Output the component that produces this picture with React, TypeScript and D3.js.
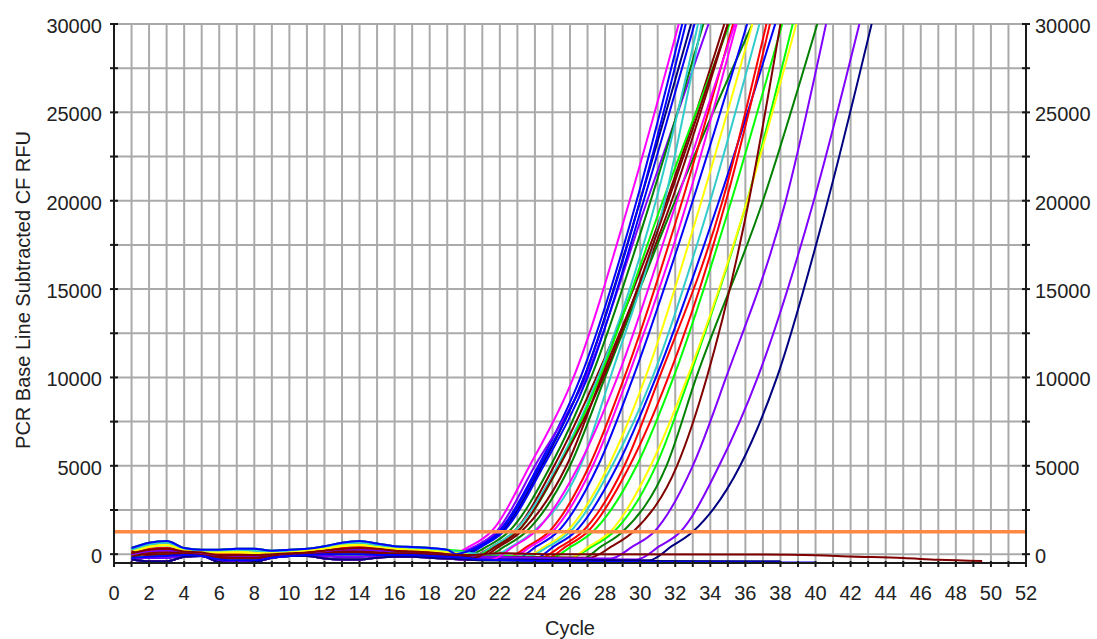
import React from "react";
import * as d3 from "d3";

const width = 1097;
const height = 639;
const plotLeft = 114;
const plotRight = 1026;
const plotTop = 24;
const plotBottom = 563;

// axis ticks / labels
const xLabelCycles = d3.range(0, 53, 2);
const xGridCycles = d3.range(1, 52);
const xTickCycles = d3.range(0, 53);
const yLabelValues = [0, 5000, 10000, 15000, 20000, 25000, 30000];
const yGridValues = [0, 2500, 5000, 7500, 10000, 12500, 15000, 17500, 20000, 22500, 25000, 27500, 30000];
const threshold = 1270;

// baseline noise patterns, values at cycles 1..20
const baseCycles = d3.range(1, 21);
const basePatterns = [
  [350, 650, 750, 350, 250, 250, 300, 300, 200, 250, 300, 450, 650, 750, 600, 450, 400, 350, 250, 150],
  [200, 450, 550, 250, 150, 150, 200, 150, 100, 150, 200, 350, 500, 550, 450, 350, 300, 250, 150, 50],
  [-100, 300, 350, 150, 50, 50, 50, 0, 0, 100, 150, 250, 350, 400, 350, 250, 200, 150, 50, -50],
  [0, 150, 200, 100, 0, -100, -100, -100, -50, 0, 50, 100, 200, 250, 200, 150, 100, 50, 0, -100],
  [150, -50, 0, 0, -50, -200, -250, -250, -150, -50, 0, 50, 100, 100, 50, 0, 0, -50, -100, -150],
  [-250, -200, -200, -100, -100, -350, -450, -400, -200, -100, -50, -100, -150, -150, -100, -100, -100, -150, -200, -250],
  [-300, -400, -400, -150, -100, -450, -500, -450, -200, -100, -100, -250, -300, -300, -200, -150, -150, -200, -250, -300],
  [250, 550, 650, 300, 200, 200, 250, 200, 150, 200, 250, 400, 600, 650, 500, 400, 350, 300, 200, 100],
  [50, 250, 300, 150, 100, -50, -50, -50, 0, 50, 100, 200, 300, 350, 300, 200, 150, 100, 0, -50],
  [-150, 50, 100, 50, -50, -150, -200, -200, -100, -50, 0, 50, 150, 150, 100, 50, 50, 0, -50, -100],
  [-200, -150, -100, -50, -100, -300, -350, -350, -200, -100, -50, 0, 0, 0, -50, -50, -50, -100, -150, -200],
  [100, 400, 500, 200, 100, 100, 100, 50, 50, 100, 200, 300, 450, 500, 400, 300, 250, 200, 100, 0],
];

const curveColors = [
  "#ff00ff", "#0000ff", "#8000ff", "#000080", "#0000ff", "#008000", "#800000", "#33cccc",
  "#00ff00", "#800000", "#008000", "#33cccc", "#ff0000", "#ff00ff", "#0000ff", "#ffff00",
  "#33cccc", "#0000ff", "#ff0000", "#ff0000", "#00ff00", "#00ff00", "#ffff00", "#008000",
  "#800000", "#8000ff", "#8000ff", "#000080", "#0000ff", "#800000", "#ff00ff",
  "#800000", "#000080", "#0000ff",
];
const curveBase = [1, 2, 0, 3, 4, 7, 8, 9, 0, 5, 10, 11, 2, 3, 5, 1, 7, 6, 8, 4, 9, 10, 11, 6, 4, 3, 5, 6, 0, 9, 6, 8, 6, 10];

// [cycle, RFU] points after the baseline part
const curvePts: number[][][] = [
  [[19.0, -50], [20.3, 450], [21.5, 1270], [23.7, 5000], [26.2, 10000], [29.4, 20000], [32.2, 30000]],
  [[19.4, -100], [20.7, 450], [21.9, 1270], [24.2, 5000], [26.6, 10000], [29.8, 20000], [32.4, 30000]],
  [[19.3, 0], [20.6, 450], [21.8, 1270], [24.0, 5000], [26.9, 10000], [30.4, 20000], [33.9, 30000]],
  [[19.6, -150], [20.9, 450], [22.1, 1270], [24.4, 5000], [26.8, 10000], [30.0, 20000], [32.9, 30000]],
  [[19.7, -200], [21.0, 450], [22.2, 1270], [24.5, 5000], [27.0, 10000], [30.2, 20000], [33.1, 30000]],
  [[20.0, -100], [21.3, 450], [22.5, 1270], [24.9, 5000], [27.2, 10000], [30.6, 20000], [33.6, 30000]],
  [[20.3, -150], [21.6, 450], [22.8, 1270], [25.1, 5000], [27.5, 10000], [31.5, 20000], [34.8, 30000]],
  [[20.3, -200], [21.6, 450], [22.8, 1270], [25.3, 5000], [27.6, 10000], [30.9, 20000], [33.3, 30000]],
  [[20.5, -100], [21.8, 450], [23.0, 1270], [25.4, 5000], [27.7, 10000], [31.3, 20000], [35.1, 30000]],
  [[20.7, -250], [22.0, 450], [23.2, 1270], [25.8, 5000], [27.8, 10000], [31.8, 20000], [35.0, 30000]],
  [[21.0, -200], [22.3, 450], [23.5, 1270], [26.0, 5000], [28.0, 10000], [32.0, 20000], [36.4, 30000]],
  [[21.4, -150], [22.7, 450], [23.9, 1270], [26.6, 5000], [28.3, 10000], [31.4, 20000], [33.5, 30000]],
  [[22.3, -250], [23.6, 450], [24.8, 1270], [27.1, 5000], [29.1, 10000], [32.4, 20000], [35.3, 30000]],
  [[22.5, -250], [23.8, 450], [25.0, 1270], [27.3, 5000], [29.3, 10000], [32.7, 20000], [35.5, 30000]],
  [[22.8, -300], [24.1, 450], [25.3, 1270], [27.6, 5000], [29.6, 10000], [33.0, 20000], [36.1, 30000]],
  [[23.3, -200], [24.6, 450], [25.8, 1270], [28.2, 5000], [30.3, 10000], [33.5, 20000], [36.4, 30000]],
  [[23.5, -150], [24.8, 450], [26.0, 1270], [28.4, 5000], [30.7, 10000], [34.0, 20000], [36.8, 30000]],
  [[21.5, -300], [23.8, -350], [25.1, 450], [26.3, 1270], [28.7, 5000], [30.9, 10000], [34.5, 20000], [37.7, 30000]],
  [[21.5, -150], [24.2, -250], [25.5, 450], [26.7, 1270], [29.1, 5000], [31.1, 10000], [34.7, 20000], [37.2, 30000]],
  [[21.5, -200], [24.5, -300], [25.8, 450], [27.0, 1270], [29.4, 5000], [31.6, 10000], [34.9, 20000], [37.4, 30000]],
  [[21.5, -150], [24.8, -250], [26.1, 450], [27.3, 1270], [29.8, 5000], [31.9, 10000], [35.2, 20000], [38.1, 30000]],
  [[21.5, -100], [26.0, -200], [27.3, 450], [28.5, 1270], [30.9, 5000], [32.8, 10000], [36.1, 20000], [38.7, 30000]],
  [[21.5, -250], [25.8, -300], [27.1, 450], [28.3, 1270], [30.6, 5000], [32.7, 10000], [36.1, 20000], [38.9, 30000]],
  [[21.5, -350], [26.5, -350], [27.8, 450], [29.0, 1270], [31.5, 5000], [33.2, 10000], [37.0, 20000], [40.1, 30000]],
  [[21.5, -150], [27.1, -200], [28.4, 450], [29.6, 1270], [32.1, 5000], [33.8, 10000], [36.2, 20000], [38.0, 30000]],
  [[21.5, -150], [28.3, -250], [29.6, 450], [30.8, 1270], [33.0, 5000], [34.9, 10000], [38.3, 20000], [40.6, 30000]],
  [[21.5, -250], [29.8, -300], [31.1, 450], [32.3, 1270], [34.5, 5000], [36.7, 10000], [39.9, 20000], [42.5, 30000]],
  [[21.5, -300], [30.5, -350], [31.8, 450], [33.0, 1270], [35.7, 5000], [37.8, 10000], [40.7, 20000], [43.2, 30000]],
  [[19.5, 0], [20.8, 450], [22.0, 1270], [24.3, 5000], [26.8, 10000], [30.0, 20000], [32.6, 30000]],
  [[20.5, -200], [21.8, 450], [23.0, 1270], [25.4, 5000], [27.9, 10000], [31.6, 20000], [35.0, 30000]],
  [[21.5, -300], [22.8, 450], [24.0, 1270], [26.5, 5000], [28.7, 10000], [32.1, 20000], [35.4, 30000]],
  // non-amplifying wells
  [[22, 50], [25, 0], [36, -20], [40, -60], [42, -130], [45, -220], [47, -320], [49.5, -390]],
  [[21, -350], [30, -380], [38, -400]],
  [[21, -300], [30, -450], [40, -470]],
];

const App = () => {
  const x = d3.scaleLinear().domain([0, 52]).range([plotLeft, plotRight]);
  const y = d3.scaleLinear().domain([-500, 30000]).range([plotBottom, plotTop]);

  const line = d3
    .line<number[]>()
    .x((d) => x(d[0]))
    .y((d) => y(d[1]))
    .curve(d3.curveMonotoneX);

  const series = curvePts.map((pts, i) => {
    const pattern = basePatterns[curveBase[i]];
    const start = pts[0][0];
    const base = baseCycles.filter((c) => c < start - 0.4).map((c, k) => [c, pattern[k]]);
    return [...base, ...pts];
  });

  const font = "'Liberation Sans', Arial, sans-serif";
  const textColor = "#222";
  const axisColor = "#1a1a1a";

  return (
    <svg
      width={width}
      height={height}
      style={{ position: "absolute", left: 0, top: 0, background: "#fff" }}
      fontFamily={font}
      fontSize={20}
    >
      <defs>
        <clipPath id="plot-clip">
          <rect x={plotLeft} y={plotTop} width={plotRight - plotLeft} height={plotBottom - plotTop} />
        </clipPath>
      </defs>
      <rect width={width} height={height} fill="#fff" />

      {/* grid */}
      <g stroke="#aaaaaa" strokeWidth={2}>
        {xGridCycles.map((c) => (
          <line key={"gx" + c} x1={x(c)} x2={x(c)} y1={plotTop} y2={plotBottom} />
        ))}
        {yGridValues.map((v) => (
          <line key={"gy" + v} x1={plotLeft} x2={plotRight} y1={y(v)} y2={y(v)} />
        ))}
      </g>

      {/* curves */}
      <g clipPath="url(#plot-clip)" fill="none" strokeWidth={2}>
        {series.map((pts, i) => (
          <path key={"c" + i} d={line(pts) || ""} stroke={curveColors[i]} />
        ))}
      </g>

      {/* threshold */}
      <line x1={plotLeft} x2={plotRight} y1={y(threshold)} y2={y(threshold)} stroke="#ff8844" strokeWidth={3.5} />

      {/* axes */}
      <g stroke={axisColor} strokeWidth={2}>
        <line x1={plotLeft} x2={plotLeft} y1={plotTop} y2={plotBottom + 4} />
        <line x1={plotRight} x2={plotRight} y1={plotTop} y2={plotBottom + 4} />
        <line x1={plotLeft} x2={plotRight} y1={plotBottom} y2={plotBottom} />
        {yGridValues.map((v) => (
          <g key={"ty" + v}>
            <line x1={plotLeft - 4} x2={plotLeft + 4} y1={y(v)} y2={y(v)} />
            <line x1={plotRight - 4} x2={plotRight + 4} y1={y(v)} y2={y(v)} />
          </g>
        ))}
        {xTickCycles.map((c) => (
          <line key={"tx" + c} x1={x(c)} x2={x(c)} y1={plotBottom - 2} y2={plotBottom + 4} />
        ))}
      </g>

      {/* labels */}
      <g fill={textColor}>
        {yLabelValues.map((v) => (
          <text key={"ly" + v} x={plotLeft - 12} y={y(v) + 9} textAnchor="end">
            {v}
          </text>
        ))}
        {yLabelValues.map((v) => (
          <text key={"ry" + v} x={plotRight + 9} y={y(v) + 9} textAnchor="start">
            {v}
          </text>
        ))}
        {xLabelCycles.map((c) => (
          <text key={"lx" + c} x={x(c)} y={600} textAnchor="middle">
            {c}
          </text>
        ))}
        <text x={(plotLeft + plotRight) / 2} y={635} textAnchor="middle">
          Cycle
        </text>
        <text transform="translate(30, 290) rotate(-90)" textAnchor="middle">
          PCR Base Line Subtracted CF RFU
        </text>
      </g>
    </svg>
  );
};

export default App;
